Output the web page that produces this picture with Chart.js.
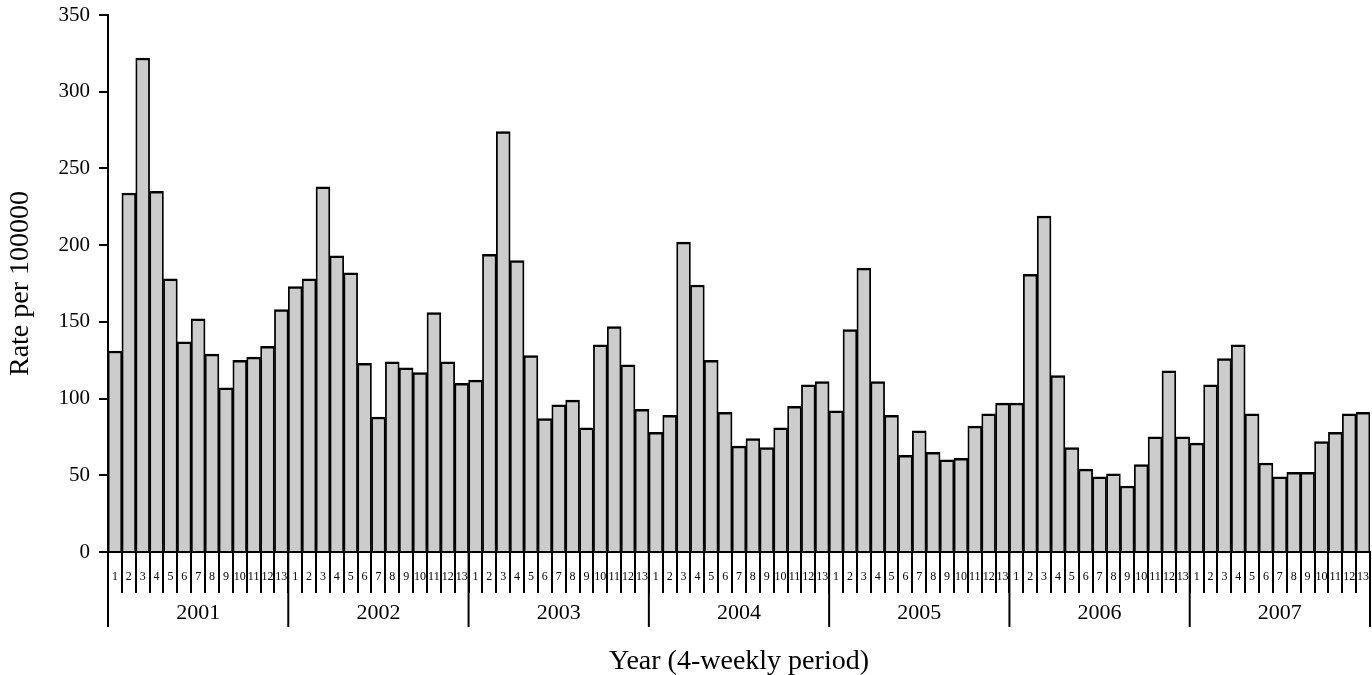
<!DOCTYPE html>
<html>
<head>
<meta charset="utf-8">
<script src="https://cdn.jsdelivr.net/npm/chart.js@4"></script>
<style>
  html, body { margin: 0; padding: 0; background: #ffffff; }
  #wrap { width: 1372px; height: 675px; position: relative; }
</style>
</head>
<body>
<div id="wrap"><canvas id="c" width="1372" height="675"></canvas></div>
<script>
const years = ['2001', '2002', '2003', '2004', '2005', '2006', '2007'];
const periods = ['1','2','3','4','5','6','7','8','9','10','11','12','13'];
const rate2001 = [131, 234, 322, 235, 178, 137, 152, 129, 107, 125, 127, 134, 158];
const rate2002 = [173, 178, 238, 193, 182, 123, 88, 124, 120, 117, 156, 124, 110];
const rate2003 = [112, 194, 274, 190, 128, 87, 96, 99, 81, 135, 147, 122, 93];
const rate2004 = [78, 89, 202, 174, 125, 91, 69, 74, 68, 81, 95, 109, 111];
const rate2005 = [92, 145, 185, 111, 89, 63, 79, 65, 60, 61, 82, 90, 97];
const rate2006 = [97, 181, 219, 115, 68, 54, 49, 51, 43, 57, 75, 118, 75];
const rate2007 = [71, 109, 126, 135, 90, 58, 49, 52, 52, 72, 78, 90, 91];
const yTicks = [0, 50, 100, 150, 200, 250, 300, 350];

const rateByYear = [rate2001, rate2002, rate2003, rate2004, rate2005, rate2006, rate2007];
const labels = [];
const values = [];
rateByYear.forEach(arr => {
  arr.forEach((v, i) => { labels.push(periods[i]); values.push(v); });
});

const SERIF = "'Liberation Serif', 'DejaVu Serif', serif";

const yearAxisPlugin = {
  id: 'yearAxis',
  afterDraw(chart) {
    const x = chart.scales.x;
    const ctx = chart.ctx;
    const area = chart.chartArea;
    const step = x.getPixelForValue(1) - x.getPixelForValue(0);
    const per = periods.length;
    ctx.save();
    ctx.strokeStyle = '#000000';
    ctx.lineWidth = 2;
    const bounds = [];
    for (let i = 0; i <= years.length; i++) {
      let px;
      if (i === years.length) px = x.getPixelForValue(values.length - 1) + step / 2;
      else px = x.getPixelForValue(i * per) - step / 2;
      bounds.push(px);
      ctx.beginPath();
      ctx.moveTo(px, area.bottom);
      ctx.lineTo(px, area.bottom + 75);
      ctx.stroke();
    }
    ctx.fillStyle = '#000000';
    ctx.font = "22px " + SERIF;
    ctx.textAlign = 'center';
    ctx.textBaseline = 'middle';
    for (let i = 0; i < years.length; i++) {
      ctx.fillText(years[i], (bounds[i] + bounds[i + 1]) / 2, area.bottom + 61);
    }
    ctx.restore();
  }
};

new Chart(document.getElementById('c'), {
  type: 'bar',
  data: {
    labels: labels,
    datasets: [{
      data: values,
      backgroundColor: '#cccccc',
      borderColor: '#000000',
      borderWidth: { top: 2.5, left: 1.8, right: 1.8, bottom: 0 },
      barPercentage: 1,
      categoryPercentage: 1
    }]
  },
  options: {
    responsive: false,
    animation: false,
    devicePixelRatio: 1,
    layout: { padding: { top: 15, right: 2, left: 0, bottom: 0 } },
    plugins: { legend: { display: false }, tooltip: { enabled: false } },
    scales: {
      x: {
        type: 'category',
        offset: true,
        grid: {
          offset: true,
          drawOnChartArea: false,
          drawTicks: true,
          tickLength: 41,
          color: '#000000',
          lineWidth: 2
        },
        border: { display: true, color: '#000000', width: 2 },
        ticks: {
          autoSkip: false,
          maxRotation: 0,
          minRotation: 0,
          padding: -23,
          color: '#000000',
          font: { family: SERIF, size: 12 }
        },
        title: {
          display: true,
          text: 'Year (4-weekly period)',
          color: '#000000',
          font: { family: SERIF, size: 28 },
          padding: { top: 0, bottom: -3 }
        },
        afterFit(scale) { scale.height = 123; scale.paddingLeft = 0; scale.paddingRight = 0; }
      },
      y: {
        min: 0,
        max: 350,
        afterBuildTicks(scale) { scale.ticks = yTicks.map(v => ({ value: v })); },
        grid: {
          drawOnChartArea: false,
          drawTicks: true,
          tickLength: 9,
          color: '#000000',
          lineWidth: 2
        },
        border: { display: true, color: '#000000', width: 2 },
        ticks: {
          padding: 9,
          color: '#000000',
          font: { family: SERIF, size: 21 }
        },
        title: {
          display: true,
          text: 'Rate per 100000',
          color: '#000000',
          font: { family: SERIF, size: 28 },
          padding: { top: 4, bottom: 0 }
        },
        afterFit(scale) { scale.width = 108; scale.paddingTop = 0; scale.paddingBottom = 0; }
      }
    }
  },
  plugins: [yearAxisPlugin]
});
</script>
</body>
</html>
